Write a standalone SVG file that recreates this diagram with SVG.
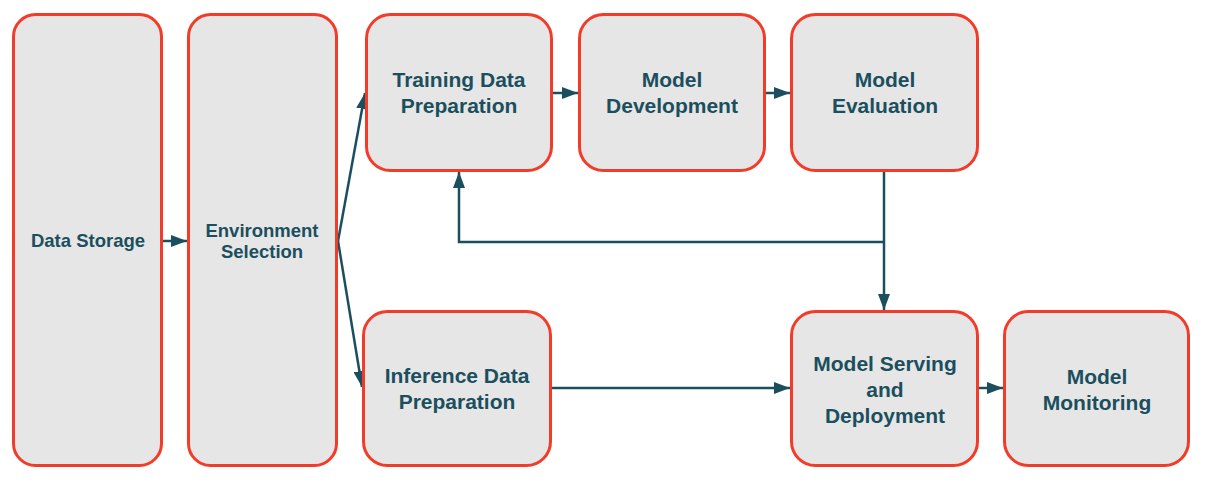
<svg xmlns="http://www.w3.org/2000/svg" width="1208" height="497" viewBox="0 0 1208 497">
<defs>
<style>
.box{fill:#e6e6e6;stroke:#f33b2a;stroke-width:3}
.t{font-family:"Liberation Sans",Arial,sans-serif;font-weight:bold;fill:#1b4f5e;text-anchor:middle}
.big{font-size:21px}
.small{font-size:18.5px}
.c{fill:none;stroke:#1b4f5e;stroke-width:2.5}
</style>
<marker id="ah" markerUnits="userSpaceOnUse" markerWidth="16" markerHeight="12" refX="16" refY="6" orient="auto">
<path d="M0,0 L16,6 L0,12 z" fill="#1b4f5e"/>
</marker>
</defs>
<rect width="1208" height="497" fill="#ffffff"/>
<g id="connectors">
<path class="c" d="M163,241 L187,241" marker-end="url(#ah)"/>
<path class="c" d="M338,241 L365,93" marker-end="url(#ah)"/>
<path class="c" d="M338,241 L362,387" marker-end="url(#ah)"/>
<path class="c" d="M553,93 L578,93" marker-end="url(#ah)"/>
<path class="c" d="M766,93 L790,93" marker-end="url(#ah)"/>
<path class="c" d="M884,172 L884,310" marker-end="url(#ah)"/>
<path class="c" d="M884,242 L459,242 L459,172" marker-end="url(#ah)"/>
<path class="c" d="M552,388 L790,388" marker-end="url(#ah)"/>
<path class="c" d="M979,388 L1003,388" marker-end="url(#ah)"/>
</g>
<g id="data-storage">
<rect class="box" x="13.5" y="14.5" width="148" height="451" rx="22"/>
<text class="t small" x="88" y="247">Data Storage</text>
</g>
<g id="environment-selection">
<rect class="box" x="188.5" y="14.5" width="148" height="451" rx="22"/>
<text class="t small" x="262" y="237">Environment</text>
<text class="t small" x="262" y="258">Selection</text>
</g>
<g id="training-data-preparation">
<rect class="box" x="366.5" y="14.5" width="185" height="156" rx="24"/>
<text class="t big" x="459" y="87">Training Data</text>
<text class="t big" x="459" y="113">Preparation</text>
</g>
<g id="model-development">
<rect class="box" x="579.5" y="14.5" width="185" height="156" rx="24"/>
<text class="t big" x="672" y="87">Model</text>
<text class="t big" x="672" y="113">Development</text>
</g>
<g id="model-evaluation">
<rect class="box" x="791.5" y="14.5" width="186" height="156" rx="24"/>
<text class="t big" x="885" y="87">Model</text>
<text class="t big" x="885" y="113">Evaluation</text>
</g>
<g id="inference-data-preparation">
<rect class="box" x="363.5" y="311.5" width="187" height="154" rx="24"/>
<text class="t big" x="457" y="383">Inference Data</text>
<text class="t big" x="457" y="409">Preparation</text>
</g>
<g id="model-serving-and-deployment">
<rect class="box" x="791.5" y="311.5" width="186" height="154" rx="24"/>
<text class="t big" x="885" y="371">Model Serving</text>
<text class="t big" x="885" y="397">and</text>
<text class="t big" x="885" y="423">Deployment</text>
</g>
<g id="model-monitoring">
<rect class="box" x="1004.5" y="311.5" width="184" height="154" rx="24"/>
<text class="t big" x="1097" y="384">Model</text>
<text class="t big" x="1097" y="410">Monitoring</text>
</g>
</svg>
